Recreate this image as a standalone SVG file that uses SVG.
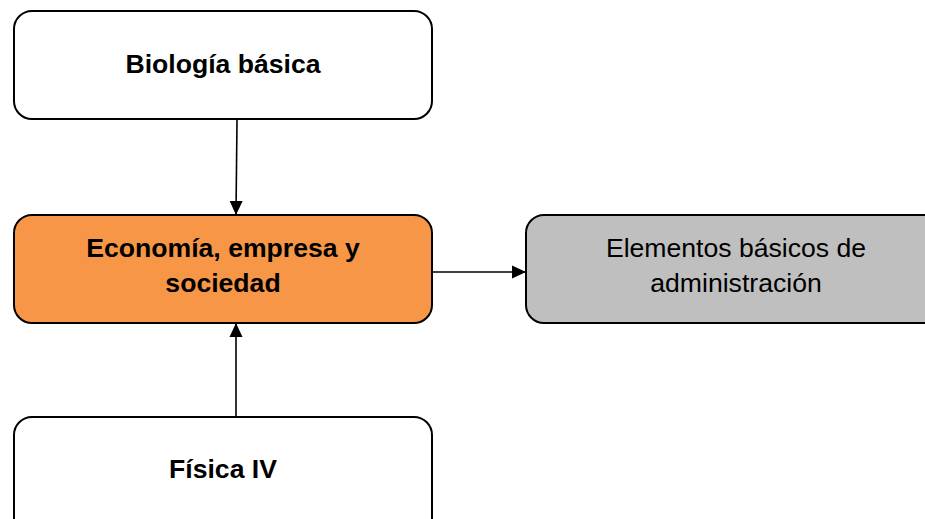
<svg xmlns="http://www.w3.org/2000/svg" width="925" height="519" viewBox="0 0 925 519">
<style>
.box{stroke:#000;stroke-width:2}
.t{font-family:"Liberation Sans",Arial,sans-serif;font-size:26.6px;fill:#000;text-anchor:middle}
.b{font-weight:bold}
.c{stroke:#000;stroke-width:1.6;fill:none}
</style>
<defs>
<marker id="ah" markerWidth="14" markerHeight="14" refX="13" refY="7" orient="auto" markerUnits="userSpaceOnUse" viewBox="0 0 14 14">
<path d="M0,0.5 L14,7 L0,13.5 Z" fill="#000"/>
</marker>
</defs>
<rect width="925" height="519" fill="#fff"/>
<g id="connectors">
<line class="c" x1="237" y1="120" x2="236" y2="214" style="marker-end:url(#ah)"/>
<line class="c" x1="432" y1="272" x2="525" y2="272" style="marker-end:url(#ah)"/>
<line class="c" x1="236" y1="417" x2="236" y2="324" style="marker-end:url(#ah)"/>
</g>
<g id="biologia">
<rect class="box" x="14" y="11" width="418" height="108" rx="18" fill="#fff"/>
<text class="t b" x="223" y="73">Biología básica</text>
</g>
<g id="economia">
<rect class="box" x="14" y="215" width="418" height="108" rx="18" fill="#F79646"/>
<text class="t b" x="223" y="257">Economía, empresa y</text>
<text class="t b" x="223" y="292">sociedad</text>
</g>
<g id="elementos">
<rect class="box" x="526" y="215" width="420" height="108" rx="18" fill="#BFBFBF"/>
<text class="t" x="736" y="257">Elementos básicos de</text>
<text class="t" x="736" y="292">administración</text>
</g>
<g id="fisica">
<rect class="box" x="14" y="417" width="418" height="120" rx="18" fill="#fff"/>
<text class="t b" x="223" y="478">Física IV</text>
</g>
</svg>
